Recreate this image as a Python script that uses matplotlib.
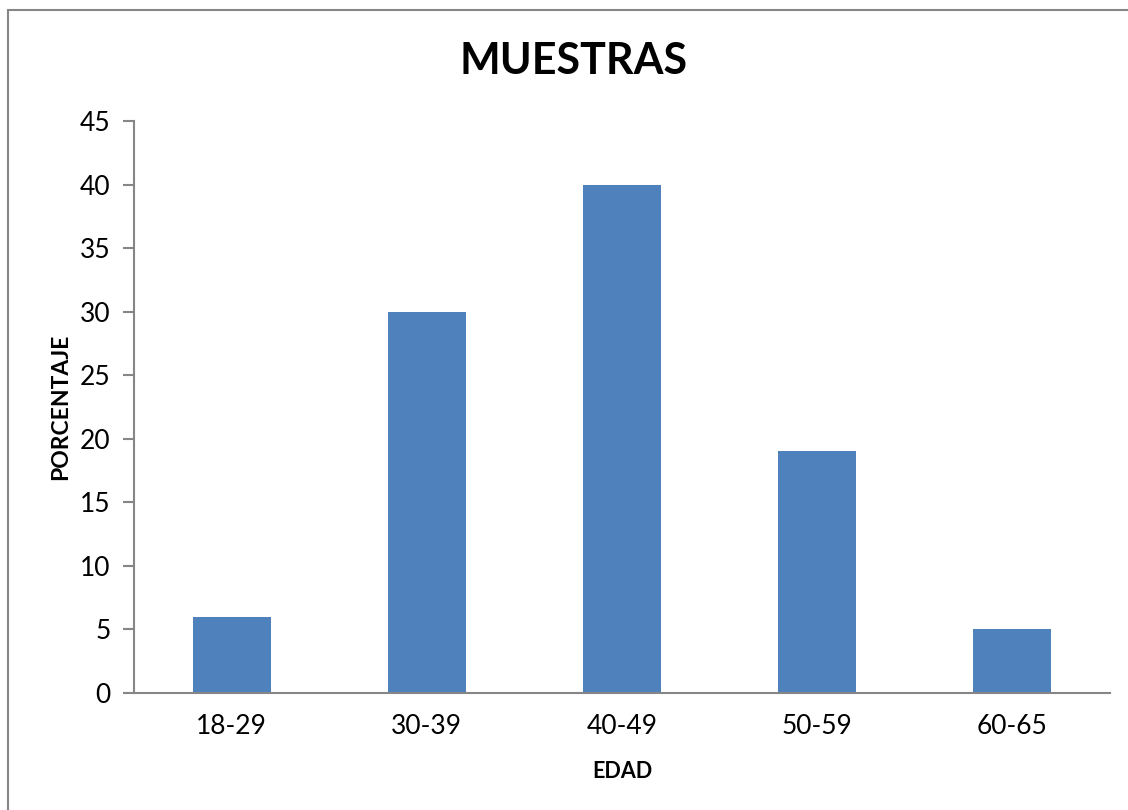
import matplotlib.pyplot as plt
from matplotlib.patches import Rectangle

plt.rcParams['font.family'] = ['Lato', 'DejaVu Sans']

edades = ['18-29', '30-39', '40-49', '50-59', '60-65']
porcentaje = [6, 30, 40, 19, 5]

W, H = 1128, 810
fig = plt.figure(figsize=(W / 100, H / 100), dpi=100)
ax = fig.add_axes([134 / W, 1 - 693 / H, (1110 - 134) / W, (693 - 121) / H])

# marco exterior del grafico
fig.patches.append(Rectangle((7.5 / W, -0.05), 1.2, 1 - 9.5 / H + 0.05,
                             transform=fig.transFigure, fill=False,
                             edgecolor='#868686', linewidth=1.5))

x = range(len(edades))
ax.bar(x, porcentaje, width=0.4, color='#4F81BD')

ax.set_xlim(-0.5, len(edades) - 0.5)
ax.set_ylim(0, 45)
ax.set_yticks(range(0, 46, 5))
ax.set_xticks(list(x))
ax.set_xticklabels(edades)

for s in ['top', 'right']:
    ax.spines[s].set_visible(False)
for s in ['left', 'bottom']:
    ax.spines[s].set_color('#868686')
    ax.spines[s].set_linewidth(1.5)

ax.tick_params(axis='y', length=8, width=1.5, color='#868686', labelsize=19, pad=9)
ax.tick_params(axis='x', length=0, labelsize=19, pad=15)

fig.text(574 / W, 1 - 61 / H, 'MUESTRAS', fontsize=31, fontweight='bold',
         ha='center', va='center')
ax.set_ylabel('PORCENTAJE', fontsize=16.5, fontweight='bold', labelpad=6)
ax.set_xlabel('EDAD', fontsize=15.5, fontweight='bold', labelpad=16)

fig.savefig('out.png', dpi=100)
